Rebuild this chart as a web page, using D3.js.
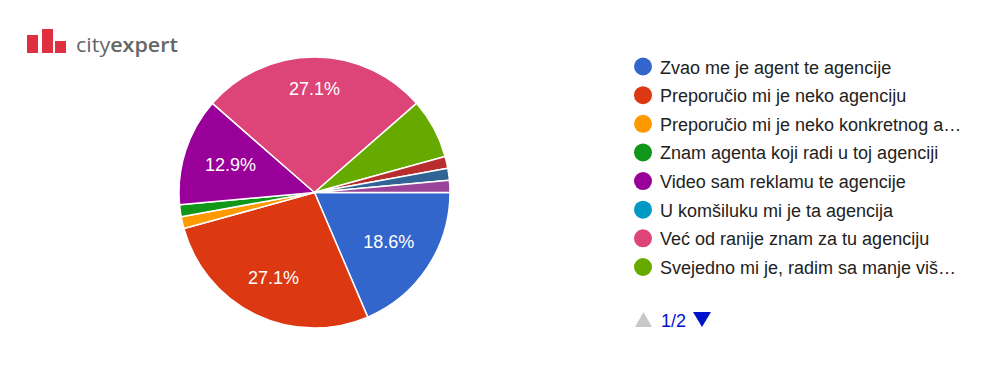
<!DOCTYPE html>
<html>
<head>
<meta charset="utf-8">
<script src="https://cdn.jsdelivr.net/npm/d3@7"></script>
<style>
  html, body { margin: 0; padding: 0; background: #fff; }
  svg { display: block; font-family: "Liberation Sans", Arial, sans-serif; }
</style>
</head>
<body>
<svg id="chart" width="1000" height="380"></svg>
<script>
// answers in slice order (clockwise from 3 o'clock); last three are on legend page 2
const categories = [
  'Zvao me je agent te agencije',
  'Preporučio mi je neko agenciju',
  'Preporučio mi je neko konkretnog a…',
  'Znam agenta koji radi u toj agenciji',
  'Video sam reklamu te agencije',
  'U komšiluku mi je ta agencija',
  'Već od ranije znam za tu agenciju',
  'Svejedno mi je, radim sa manje viš…',
  'page2-a', 'page2-b', 'page2-c'
];
const counts = [13, 19, 1, 1, 9, 0, 19, 5, 1, 1, 1];
const colors = ['#3366cc', '#dc3912', '#ff9900', '#109618', '#990099', '#0099c6',
                '#dd4477', '#66aa00', '#b82e2e', '#316395', '#994499'];
const legendShown = 8;
const pageLabel = '1/2';

const svg = d3.select('#chart');
const cx = 314.5, cy = 192.5, radius = 135.5;
const total = d3.sum(counts);

// logo
const logo = svg.append('g').attr('class', 'logo');
const logoBars = [[27, 35, 11, 18], [42, 29, 11, 24], [55, 41, 11, 12]];
logo.selectAll('rect').data(logoBars).join('rect')
  .attr('x', d => d[0]).attr('y', d => d[1]).attr('width', d => d[2]).attr('height', d => d[3])
  .attr('fill', '#e0303f');
const logoText = logo.append('text').attr('x', 76).attr('y', 52)
  .attr('font-family', '"Open Sans", sans-serif').attr('font-size', 20).attr('fill', '#666')
  .attr('textLength', 102).attr('lengthAdjust', 'spacingAndGlyphs');
logoText.append('tspan').text('city');
logoText.append('tspan').attr('font-weight', 600).text('expert');

// pie, starting at 3 o'clock, clockwise
const pie = d3.pie().sort(null).value(d => d)
  .startAngle(Math.PI / 2).endAngle(Math.PI / 2 + 2 * Math.PI);
const arcs = pie(counts);
const arc = d3.arc().innerRadius(0).outerRadius(radius);

const pieG = svg.append('g').attr('transform', `translate(${cx},${cy})`);
pieG.selectAll('path').data(arcs.filter(a => a.value > 0)).join('path')
  .attr('d', arc)
  .attr('fill', d => colors[d.index])
  .attr('stroke', '#fff')
  .attr('stroke-width', 1.5)
  .attr('stroke-linejoin', 'round');

// labels: push the box out until its far corner reaches labelR
const labelR = 115.5;
const fmt = v => (v / total * 100).toFixed(1) + '%';
const labelG = pieG.append('g');
arcs.filter(a => a.value / total >= 0.1).forEach(a => {
  const t = labelG.append('text')
    .attr('text-anchor', 'middle')
    .attr('dominant-baseline', 'central')
    .attr('font-size', 18)
    .attr('fill', '#fff')
    .text(fmt(a.value));
  const w = t.node().getComputedTextLength();
  const h = 18;
  const mid = (a.startAngle + a.endAngle) / 2;
  const ux = Math.sin(mid), uy = -Math.cos(mid);
  const b = Math.abs(ux) * w + Math.abs(uy) * h;
  const c = (w * w + h * h) / 4 - labelR * labelR;
  const d = (-b + Math.sqrt(b * b - 4 * c)) / 2;
  t.attr('x', d * ux).attr('y', d * uy);
});

// legend
const legendY = d3.scalePoint().domain(d3.range(legendShown)).range([66.5, 267]);
const legend = svg.append('g');
const rows = legend.selectAll('g').data(d3.range(legendShown)).join('g')
  .attr('transform', i => `translate(0,${legendY(i)})`);
rows.append('circle').attr('cx', 643).attr('cy', 0).attr('r', 9).attr('fill', i => colors[i]);
rows.append('text').attr('x', 660).attr('y', 1).attr('dominant-baseline', 'central')
  .attr('font-size', 18).attr('fill', '#222').text(i => categories[i]);

// pager
const pager = svg.append('g').attr('transform', 'translate(0,320)');
pager.append('path').attr('d', 'M635,7 L652,7 L643.5,-8 Z').attr('fill', '#c8c8c8');
pager.append('text').attr('x', 661).attr('y', 1).attr('dominant-baseline', 'central')
  .attr('font-size', 18).attr('fill', '#0011cc').text(pageLabel);
pager.append('path').attr('d', 'M693,-8 L711,-8 L702,7 Z').attr('fill', '#0011cc');
</script>
</body>
</html>
